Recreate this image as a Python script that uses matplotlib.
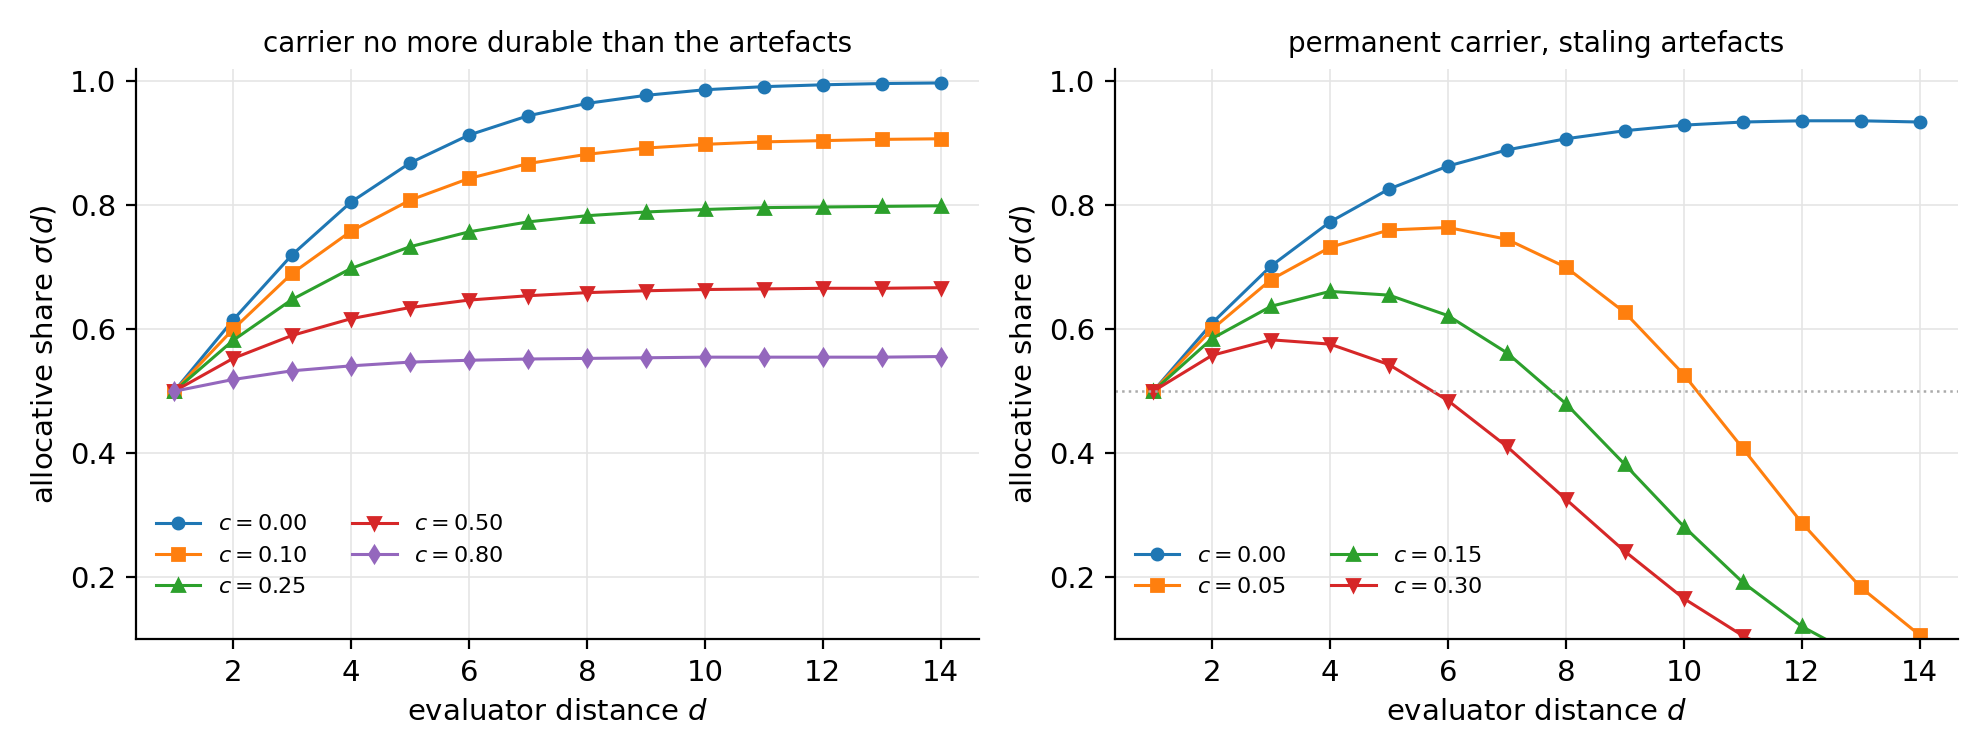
import matplotlib
matplotlib.use("Agg")
import matplotlib.pyplot as plt
import numpy as np

d = np.arange(1, 15)
left_c = [0.00, 0.10, 0.25, 0.50, 0.80]
left_vals = [
    [0.5, 0.615, 0.72, 0.805, 0.868, 0.913, 0.944, 0.964, 0.977, 0.986, 0.991, 0.994, 0.996, 0.997],
    [0.5, 0.60, 0.69, 0.758, 0.808, 0.843, 0.867, 0.882, 0.892, 0.898, 0.902, 0.904, 0.906, 0.907],
    [0.5, 0.582, 0.648, 0.698, 0.733, 0.757, 0.773, 0.783, 0.789, 0.793, 0.796, 0.797, 0.798, 0.799],
    [0.5, 0.553, 0.59, 0.617, 0.635, 0.647, 0.654, 0.659, 0.662, 0.664, 0.665, 0.666, 0.666, 0.667],
    [0.5, 0.519, 0.533, 0.541, 0.547, 0.55, 0.552, 0.553, 0.554, 0.555, 0.555, 0.555, 0.555, 0.556],
]
right_c = [0.00, 0.05, 0.15, 0.30]
right_vals = [
    [0.5, 0.61, 0.702, 0.773, 0.826, 0.863, 0.889, 0.907, 0.920, 0.929, 0.934, 0.936, 0.936, 0.934],
    [0.5, 0.60, 0.68, 0.732, 0.760, 0.764, 0.745, 0.70, 0.627, 0.527, 0.408, 0.288, 0.184, 0.107],
    [0.5, 0.585, 0.637, 0.661, 0.655, 0.622, 0.562, 0.480, 0.382, 0.282, 0.192, 0.121, 0.07, 0.04],
    [0.5, 0.558, 0.583, 0.576, 0.543, 0.485, 0.411, 0.326, 0.242, 0.166, 0.106, 0.06, 0.03, 0.015],
]
colors = ['#1f77b4', '#ff7f0e', '#2ca02c', '#d62728', '#9467bd']
markers = ['o', 's', '^', 'v', 'd']

fig, axes = plt.subplots(1, 2, figsize=(9.94, 3.78), dpi=200)
for ax, cs, vals, title in [
    (axes[0], left_c, left_vals, "carrier no more durable than the artefacts"),
    (axes[1], right_c, right_vals, "permanent carrier, staling artefacts"),
]:
    for i, (c, v) in enumerate(zip(cs, vals)):
        ax.plot(d, v, color=colors[i], marker=markers[i], markersize=4, lw=1.1,
                label=f"$c = {c:.2f}$")
    ax.set_title(title, fontsize=10)
    ax.set_xlabel("evaluator distance $d$", fontsize=10.5)
    ax.set_ylabel(r"allocative share $\sigma(d)$", fontsize=10.5)
    ax.set_ylim(0.1, 1.02)
    ax.set_xlim(0.35, 14.65)
    ax.set_xticks([2, 4, 6, 8, 10, 12, 14])
    ax.set_yticks([0.2, 0.4, 0.6, 0.8, 1.0])
    ax.grid(True, color='#e5e5e5', lw=0.6)
    ax.spines['top'].set_visible(False)
    ax.spines['right'].set_visible(False)
    ax.tick_params(labelsize=10.5)
    ax.legend(ncol=2, fontsize=8, frameon=False, loc='lower left',
              bbox_to_anchor=(0, 0.04))
axes[1].axhline(0.5, color='#aaaaaa', ls=':', lw=0.9)
fig.tight_layout()
fig.savefig("out.png", dpi=200)
